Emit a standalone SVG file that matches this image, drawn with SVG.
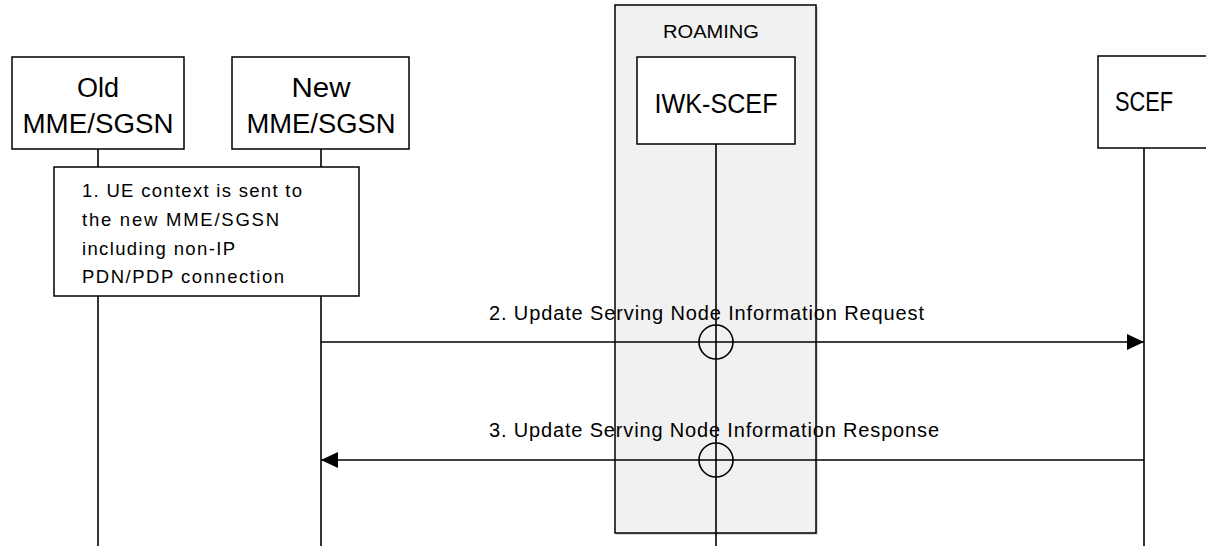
<svg xmlns="http://www.w3.org/2000/svg" width="1206" height="546" viewBox="0 0 1206 546">
<style>
  .box{fill:#fff;stroke:#000;stroke-width:1.5}
  .life{stroke:#000;stroke-width:1.6;fill:none}
  .msg{stroke:#000;stroke-width:1.6;fill:none}
  .hd{font-family:"Liberation Sans",Arial,sans-serif;font-size:27px;fill:#000}
  .tx{font-family:"Liberation Sans",Arial,sans-serif;font-size:18.5px;fill:#000}
  .ml{font-family:"Liberation Sans",Arial,sans-serif;font-size:20px;fill:#000}
  .circ{fill:none;stroke:#000;stroke-width:1.6}
</style>
<defs>
  <marker id="arr" viewBox="0 0 17 16" refX="17" refY="8" markerWidth="17" markerHeight="16" markerUnits="userSpaceOnUse" orient="auto">
    <path d="M0,0 L17,8 L0,16 Z" fill="#000"/>
  </marker>
</defs>
<rect width="1206" height="546" fill="#fff"/>

<g id="roaming">
  <rect x="616.5" y="6.5" width="201" height="528" fill="#b8b8b8"/>
  <rect x="615" y="5" width="201" height="528" fill="#f1f1f1" stroke="#000" stroke-width="1.5"/>
  <text class="tx" x="711" y="38" text-anchor="middle" textLength="96" lengthAdjust="spacingAndGlyphs">ROAMING</text>
</g>

<g id="lifelines">
  <line class="life" x1="98" y1="149" x2="98" y2="167"/>
  <line class="life" x1="98" y1="296" x2="98" y2="546"/>
  <line class="life" x1="321" y1="149" x2="321" y2="167"/>
  <line class="life" x1="321" y1="296" x2="321" y2="546"/>
  <line class="life" x1="716" y1="144" x2="716" y2="546"/>
  <line class="life" x1="1144" y1="148" x2="1144" y2="546"/>
</g>

<g id="old-mme">
  <rect class="box" x="12" y="57" width="172" height="92"/>
  <text class="hd" x="98" y="97" text-anchor="middle">Old</text>
  <text class="hd" x="98" y="133" text-anchor="middle" textLength="151" lengthAdjust="spacingAndGlyphs">MME/SGSN</text>
</g>

<g id="new-mme">
  <rect class="box" x="232" y="57" width="177" height="92"/>
  <text class="hd" x="321" y="97" text-anchor="middle" textLength="59" lengthAdjust="spacingAndGlyphs">New</text>
  <text class="hd" x="321" y="133" text-anchor="middle" textLength="149" lengthAdjust="spacingAndGlyphs">MME/SGSN</text>
</g>

<g id="iwk-scef">
  <rect class="box" x="637" y="57" width="158" height="87"/>
  <text class="hd" x="716" y="113" text-anchor="middle" textLength="123" lengthAdjust="spacingAndGlyphs">IWK-SCEF</text>
</g>

<g id="scef">
  <rect class="box" x="1098" y="56" width="120" height="92"/>
  <text class="hd" x="1144" y="111" text-anchor="middle" font-size="25" textLength="58" lengthAdjust="spacingAndGlyphs">SCEF</text>
</g>

<g id="step1">
  <rect class="box" x="54" y="167" width="305" height="129"/>
  <text class="tx" x="82" y="197" textLength="220" lengthAdjust="spacing">1. UE context is sent to</text>
  <text class="tx" x="82" y="226" textLength="197" lengthAdjust="spacing">the new MME/SGSN</text>
  <text class="tx" x="82" y="255" textLength="153" lengthAdjust="spacing">including non-IP</text>
  <text class="tx" x="82" y="283" textLength="202" lengthAdjust="spacing">PDN/PDP connection</text>
</g>

<g id="connectors">
  <line class="msg" x1="321" y1="342" x2="1144" y2="342" marker-end="url(#arr)"/>
  <circle class="circ" cx="716" cy="342" r="17"/>
  <text class="ml" x="489" y="320" textLength="435" lengthAdjust="spacing">2. Update Serving Node Information Request</text>

  <line class="msg" x1="1144" y1="460" x2="321" y2="460" marker-end="url(#arr)"/>
  <circle class="circ" cx="716" cy="460" r="17"/>
  <text class="ml" x="489" y="437" textLength="450" lengthAdjust="spacing">3. Update Serving Node Information Response</text>
</g>
</svg>
